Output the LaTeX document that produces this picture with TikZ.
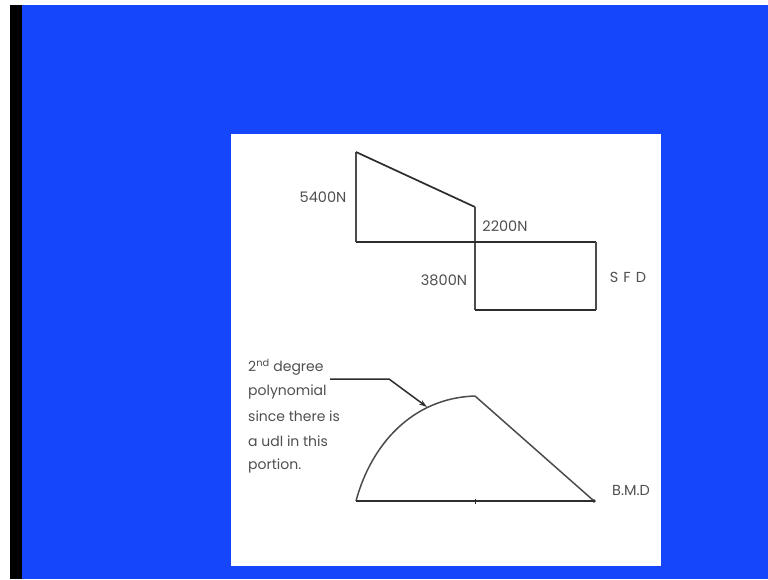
\documentclass[tikz,border=0pt]{standalone}
\usepackage{fontspec}
\setmainfont{Poppins}
\usetikzlibrary{arrows.meta}
\definecolor{bg}{RGB}{22,70,252}
\definecolor{ink}{RGB}{45,45,45}
\definecolor{txt}{RGB}{80,80,80}
\begin{document}
\begin{tikzpicture}[x=1pt,y=-1pt,
  lbl/.style={font=\fontsize{14.5}{16}\selectfont, text=txt, inner sep=0pt},
  note/.style={font=\fontsize{14}{16}\selectfont, text=txt, inner sep=0pt, anchor=west},
  main/.style={draw=ink, line width=1.7pt, line join=miter},
  thin/.style={draw=ink!85, line width=1.2pt}]
\useasboundingbox (0,0) rectangle (768,579);
\fill[white] (0,0) rectangle (768,579);
\fill[bg] (10,5) rectangle (768,579);
\fill[black] (10,5) rectangle (22,579);
\fill[white] (231,134) rectangle (661,566);
% SFD
\coordinate (s1) at (356,152);
\coordinate (s2) at (475,207);
\coordinate (s3) at (475,242);
\coordinate (s0) at (356,242);
\coordinate (s4) at (596,242);
\coordinate (s5) at (596,310);
\coordinate (s6) at (475,310);
\draw[thin] (s0) -- (s1);
\draw[main] (s1) -- (s2);
\draw[thin] (s2) -- (s6);
\draw[main] (s0) -- (s4);
\draw[thin] (s4) -- (s5);
\draw[main] (s5) -- (s6);
\node[lbl] (l5400) at (323,197) {5400N};
\node[lbl] (l2200) at (505,226) {2200N};
\node[lbl] (l3800) at (444,280) {3800N};
\node[lbl] (sfd) at (628,277) {S\hspace{5pt}F\hspace{5pt}D};
% BMD
\coordinate (b0) at (356,501);
\coordinate (bp) at (475,396);
\coordinate (b1) at (594,501);
\coordinate (bt) at (475,501);
\draw[thin, line width=1.5pt] (b0) .. controls (371,445) and (412,398) .. (bp);
\draw[thin, line width=1.5pt] (bp) -- (b1);
\draw[main] (b0) -- (b1);
\draw[ink, line width=0.8pt] (bt) ++(0,-2.5) -- ++(0,5);
\fill[ink] (b1) circle (1.8);
\node[lbl] (bmd) at (631,490) {B.M.D};
% note and leader
\node[note] (t1) at (248,367) {2\textsuperscript{nd} degree};
\node[note] (t2) at (248,392) {polynomial};
\node[note] (t3) at (248,416) {since there is};
\node[note] (t4) at (248,441) {a udl in this};
\node[note] (t5) at (248,466) {portion.};
\coordinate (a0) at (330,379);
\coordinate (a1) at (389,379);
\coordinate (a2) at (427,407);
\draw[main, line width=1.5pt, -{Stealth[length=8pt,width=5pt]}] (a0) -- (a1) -- (a2);
\end{tikzpicture}
\end{document}
